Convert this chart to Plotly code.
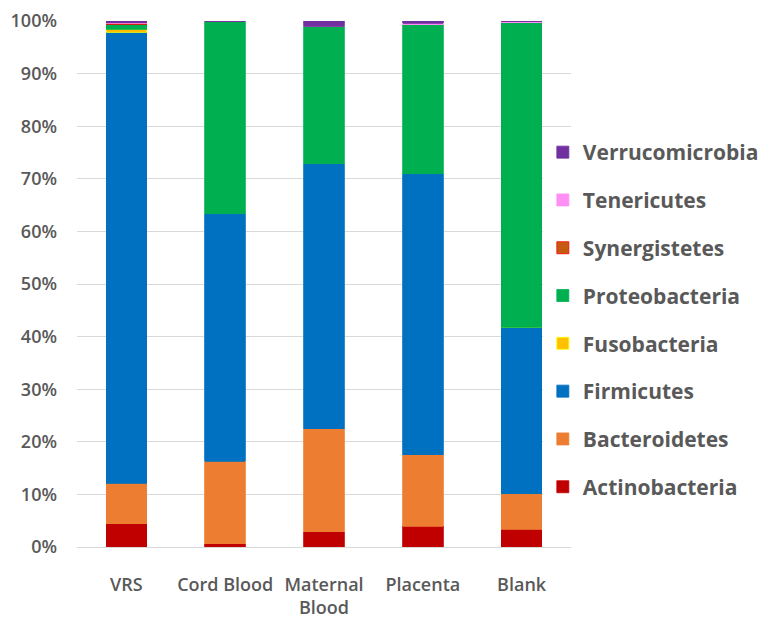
import plotly.graph_objects as go

categories = ["VRS", "Cord Blood", "Maternal<br>Blood", "Placenta", "Blank"]

actinobacteria = [4.4, 0.6, 2.9, 3.9, 3.4]
bacteroidetes = [7.7, 15.7, 19.6, 13.6, 6.7]
firmicutes = [85.8, 47.1, 50.4, 53.5, 31.7]
fusobacteria = [0.5, 0.0, 0.0, 0.0, 0.0]
proteobacteria = [1.0, 36.6, 26.1, 28.3, 57.9]
synergistetes = [0.2, 0.0, 0.0, 0.0, 0.0]
tenericutes = [0.1, 0.0, 0.0, 0.3, 0.3]
verrucomicrobia = [0.3, 0.0, 1.0, 0.4, 0.0]

series = [
    ("Actinobacteria", actinobacteria, "#C00000", "#C00000"),
    ("Bacteroidetes", bacteroidetes, "#ED7D31", "#ED7D31"),
    ("Firmicutes", firmicutes, "#0070C0", "#0070C0"),
    ("Fusobacteria", fusobacteria, "#FFC000", "#FFFF00"),
    ("Proteobacteria", proteobacteria, "#00B050", "#00B050"),
    ("Synergistetes", synergistetes, "#C55A11", "#FF0000"),
    ("Tenericutes", tenericutes, "#FF8FF5", "#FF8FF5"),
    ("Verrucomicrobia", verrucomicrobia, "#7030A0", "#7030A0"),
]

y_tickvals = [0, 10, 20, 30, 40, 50, 60, 70, 80, 90, 100]
y_ticktext = ["0%", "10%", "20%", "30%", "40%", "50%", "60%", "70%", "80%", "90%", "100%"]

fig = go.Figure()
n = len(series)
for i, (name, vals, color, line) in enumerate(series):
    fig.add_trace(go.Bar(
        x=categories, y=vals, name=name, legendgroup=name,
        legendrank=n - i,
        marker=dict(color=color, line=dict(color=line, width=0.8)),
        width=0.41,
    ))

font_family = "Open Sans, DejaVu Sans, sans-serif"
fig.update_layout(
    barmode="stack",
    width=772, height=627,
    margin=dict(l=69, r=209, t=13, b=88, autoexpand=False),
    paper_bgcolor="white", plot_bgcolor="white",
    font=dict(family=font_family, size=19, color="#595959"),
    showlegend=True,
    legend=dict(
        traceorder="grouped",
        tracegroupgap=17.5,
        x=0.943, xanchor="left", y=0.789, yanchor="top",
        font=dict(size=21, color="#595959", weight=700),
        itemwidth=30,
    ),
    xaxis=dict(
        showgrid=False, showline=True, linecolor="#D9D9D9", linewidth=1,
        ticks="", ticklabelstandoff=21, automargin=False,
        tickfont=dict(size=18, color="#595959", weight=600),
    ),
    yaxis=dict(
        range=[0, 100], tickvals=y_tickvals, ticktext=y_ticktext,
        showgrid=True, gridcolor="#D9D9D9", gridwidth=1,
        zeroline=False, showline=False, ticks="",
        ticklabelstandoff=19, automargin=False,
        tickfont=dict(size=18, color="#595959", weight=600),
    ),
)

fig.write_html("out.html")
